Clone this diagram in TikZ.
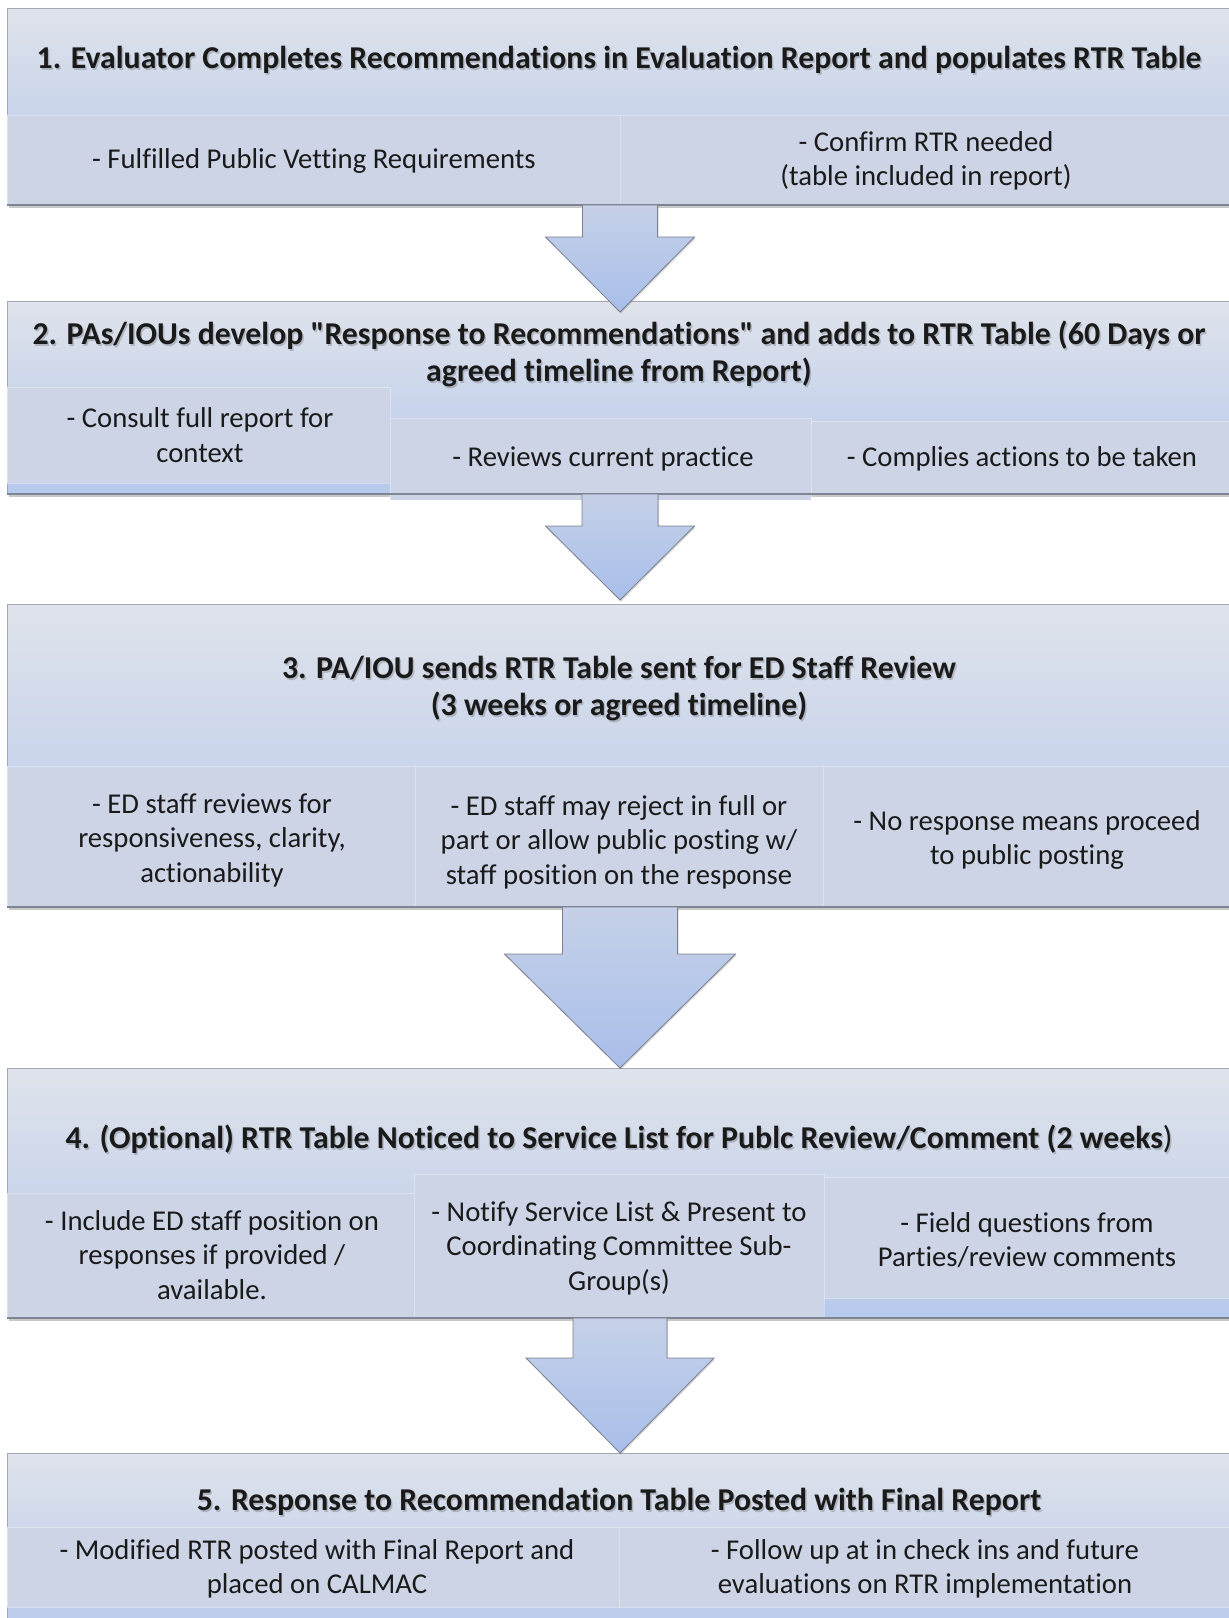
\documentclass[tikz,border=0pt]{standalone}
\usepackage{fontspec}
\setmainfont{Carlito}[Ligatures={TeXOff,NoCommon}]
\usetikzlibrary{calc,shadows}
\definecolor{boxtop}{HTML}{DFE3EB}
\definecolor{boxbot}{HTML}{B7C9EC}
\definecolor{subfill}{HTML}{CCD4E6}
\definecolor{boxline}{HTML}{A3A8B2}
\definecolor{boxshade}{HTML}{7E8694}
\definecolor{arrtop}{HTML}{C6D1E8}
\definecolor{arrbot}{HTML}{A8BEEA}
\definecolor{arrline}{HTML}{7A808C}
\definecolor{txt}{HTML}{1A1A1A}
\tikzset{
 stepbox/.style={rectangle, inner sep=0, outer sep=0, top color=boxtop, bottom color=boxbot, draw=boxline, line width=1pt,
   drop shadow={shadow xshift=1.5pt, shadow yshift=-3pt, opacity=0.35, fill=black!60}},
 subbox/.style={rectangle, inner sep=0, outer sep=0, fill=subfill, draw=white, draw opacity=0.35, line width=0.8pt},
 titletext/.style={font=\fontsize{31.8}{37}\selectfont\bfseries, text=txt, align=center, inner sep=0},
 subtext/.style={font=\fontsize{28.7}{34.5}\selectfont, text=txt, align=center, inner sep=0},
 flowarrowsty/.style={top color=arrtop, bottom color=arrbot, draw=arrline, line width=0.8pt, line join=miter,
   drop shadow={shadow xshift=1pt, shadow yshift=-1.5pt, opacity=0.25, fill=black!60}},
 bottomline/.style={draw=boxshade, line width=1.6pt},
}
\newcommand\rectnode[6]{%
 \node[#1, minimum width={(#5-#3)*1pt}, minimum height={(#6-#4)*1pt}] (#2) at ({(#3+#5)/2},{(#4+#6)/2}) {};}
\newcommand\titlenode[4]{%
 \node[titletext, text=black!75, opacity=0.25] at ({#2+1.5},{#3+2}) {#4};
 \node[titletext] (#1) at (#2,#3) {#4};}
\newcommand\flowarrow[6]{%
 \draw[flowarrowsty] let \p1=(#1.south), \p2=(#2.north) in
 ({\x1-#3pt},\y1) -- ({\x1+#3pt},\y1) -- ({\x1+#3pt},{\y2-(#6pt)+#5pt}) -- ({\x1+#4pt},{\y2-(#6pt)+#5pt})
 -- (\x1,{\y2-(#6pt)}) -- ({\x1-#4pt},{\y2-(#6pt)+#5pt}) -- ({\x1-#3pt},{\y2-(#6pt)+#5pt}) -- cycle;}
\begin{document}
\begin{tikzpicture}[x=1pt,y=-1pt]
\useasboundingbox (0,0) rectangle (1229,1618);
\fill[white] (0,0) rectangle (1229,1618);
% main boxes
\rectnode{stepbox}{b1}{7}{8}{1233}{205}
\rectnode{stepbox}{b2}{7}{301}{1233}{494}
\rectnode{stepbox}{b3}{7}{604}{1233}{907}
\rectnode{stepbox}{b4}{7}{1068}{1233}{1318}
\rectnode{stepbox}{b5}{7}{1453}{1233}{1640}
% sub boxes
\rectnode{subbox}{s1a}{7}{115}{620}{205}
\rectnode{subbox}{s1b}{620}{115}{1233}{205}
\rectnode{subbox}{s2a}{7}{387}{390}{483}
\rectnode{subbox}{s2b}{390}{418}{811}{500}
\rectnode{subbox}{s2c}{811}{421}{1233}{494}
\rectnode{subbox}{s3a}{7}{766}{415}{907}
\rectnode{subbox}{s3b}{415}{766}{823}{907}
\rectnode{subbox}{s3c}{823}{766}{1233}{907}
\rectnode{subbox}{s4a}{7}{1193}{414}{1317}
\rectnode{subbox}{s4b}{414}{1174}{824}{1318}
\rectnode{subbox}{s4c}{824}{1177}{1233}{1298}
\rectnode{subbox}{s5a}{7}{1527}{619}{1607}
\rectnode{subbox}{s5b}{619}{1527}{1233}{1607}
% bottom edges
\foreach \b in {b1,b2,b3,b4}{\draw[bottomline] (\b.south west) -- (\b.south east);}
% arrows
\flowarrow{b1}{b2}{37.5}{74.5}{75}{11}
\flowarrow{b2}{b3}{38}{74.5}{74}{-4}
\flowarrow{b3}{b4}{57.5}{115.5}{114}{0}
\flowarrow{b4}{b5}{47}{94}{95}{0}
% titles
\titlenode{t1}{619}{60}{1. Evaluator Completes Recommendations in Evaluation Report and populates RTR Table}
\titlenode{t2}{619}{354}{2. PAs/IOUs develop "Response to Recommendations" and adds to RTR Table (60 Days or\\agreed timeline from Report)}
\titlenode{t3}{619}{689}{3. PA/IOU sends RTR Table sent for ED Staff Review\\(3 weeks or agreed timeline)}
\titlenode{t4}{619}{1139}{4. (Optional) RTR Table Noticed to Service List for Publc Review/Comment (2 weeks{\mdseries )}}
\titlenode{t5}{619}{1502}{5. Response to Recommendation Table Posted with Final Report}
% sub texts
\node[subtext] (x1a) at (314,161) {- Fulfilled Public Vetting Requirements};
\node[subtext] (x1b) at (926,161) {- Confirm RTR needed\\(table included in report)};
\node[subtext] (x2a) at (200,435) {- Consult full report for\\context};
\node[subtext] (x2b) at (603,459) {- Reviews current practice};
\node[subtext] (x2c) at (1022,459) {- Complies actions to be taken};
\node[subtext] (x3a) at (212,840) {- ED staff reviews for\\responsiveness, clarity,\\actionability};
\node[subtext] (x3b) at (619,842) {- ED staff may reject in full or\\part or allow public posting w/\\staff position on the response};
\node[subtext] (x3c) at (1027,840) {- No response means proceed\\to public posting};
\node[subtext] (x4a) at (212,1255) {- Include ED staff position on\\responses if provided /\\available.};
\node[subtext] (x4b) at (619,1248) {- Notify Service List \& Present to\\Coordinating Committee Sub-\\Group(s)};
\node[subtext] (x4c) at (1027,1240) {- Field questions from\\Parties/review comments};
\node[subtext] (x5a) at (317,1569) {- Modified RTR posted with Final Report and\\placed on CALMAC};
\node[subtext] (x5b) at (925,1569) {- Follow up at in check ins and future\\evaluations on RTR implementation};
\end{tikzpicture}
\end{document}
